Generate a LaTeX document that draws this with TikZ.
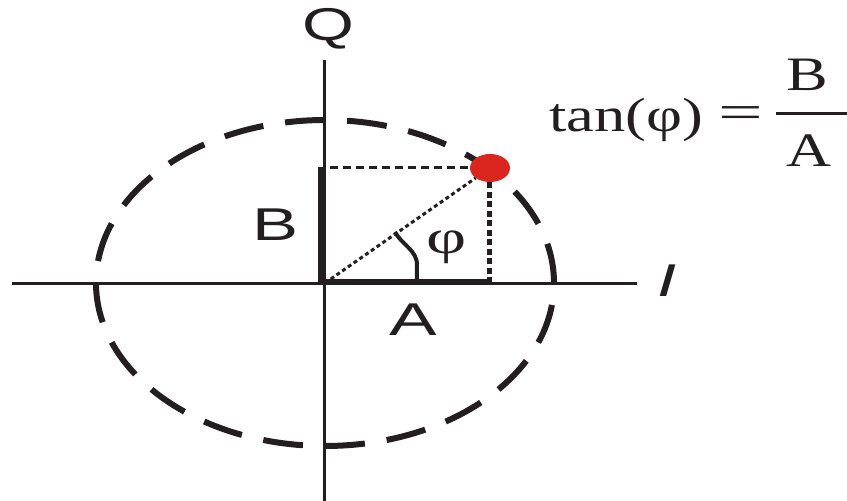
\documentclass[tikz,border=0pt]{standalone}
\usepackage{fontspec}
\setmainfont{Liberation Serif}
\newfontfamily\lsans{Liberation Sans}
\usetikzlibrary{shapes.geometric}
\definecolor{ink}{RGB}{35,31,32}
\definecolor{dotred}{RGB}{218,38,30}
\begin{document}
\begin{tikzpicture}[x=1pt,y=1pt,
  axis/.style={draw=ink,line width=3pt},
  ell/.style={draw=ink,line width=6pt,dash pattern=on 40pt off 22pt},
  bbar/.style={draw=ink,line width=7pt},
  abar/.style={draw=ink,line width=5.5pt},
  hdash/.style={draw=ink,line width=3pt,dash pattern=on 8.5pt off 4.5pt},
  vdot/.style={draw=ink,line width=5pt,dash pattern=on 6pt off 3.5pt},
  diag/.style={draw=ink,line width=3pt,dash pattern=on 4pt off 3pt},
  anglearc/.style={draw=ink,line width=4pt},
  fracbar/.style={draw=ink,line width=3pt},
  sanslbl/.style={text=ink,inner sep=0pt,font=\lsans\fontsize{46}{46}\selectfont},
  seriflbl/.style={text=ink,inner sep=0pt,font=\fontsize{48}{48}\selectfont},
  reddot/.style={ellipse,fill=dotred,minimum width=40pt,minimum height=28pt,inner sep=0pt}]
\useasboundingbox (-325,-218) rectangle (522,283);
% coordinates
\coordinate (O) at (0,0);
\coordinate (Qtop) at (0,223);
\coordinate (Qbot) at (0,-218);
\coordinate (Ileft) at (-313,0);
\coordinate (Iright) at (312,0);
\coordinate (Btop) at (0,116);
\coordinate (F) at (165,0);
\coordinate (Hs) at (5,115);
% ellipse (four quadrants, dash starting at each axis)
\draw[ell] (229,0) arc[start angle=0,end angle=90,x radius=229,y radius=163];
\draw[ell] (0,163) arc[start angle=90,end angle=180,x radius=229,y radius=163];
\draw[ell] (-229,0) arc[start angle=180,end angle=270,x radius=229,y radius=163];
\draw[ell] (0,-163) arc[start angle=270,end angle=360,x radius=229,y radius=163];
% axes
\draw[axis] (Qtop) -- (Qbot);
\draw[axis] (Ileft) -- (Iright);
% red point
\node[reddot] (P) at (165,115) {};
% projections
\draw[hdash] (Hs) -- (P.west);
\draw[vdot] (P.south) -- (F);
\draw[diag] (O) -- (P);
\draw[bbar] ([xshift=-3.5pt]O) -- ([xshift=-3.5pt]Btop);
\draw[abar] ([yshift=1.5pt]O) -- ([yshift=1.5pt]F);
% angle mark
\draw[anglearc] (70,51) .. controls (77,38) and (92,33) .. (92,18) -- (92,0);
% labels
\node[sanslbl] (lQ) at (3,254) {\scalebox{1.45}[1]{Q}};
\node[sanslbl] (lB) at (-49,58) {\scalebox{1.5}[1]{B}};
\node[sanslbl] (lA) at (88,-37) {\scalebox{1.55}[1]{A}};
\node[sanslbl] (lI) at (342,2) {\scalebox{1.5}[1]{\itshape I}};
\node[seriflbl] (lphi) at (122,36) {\scalebox{1.45}[1]{φ}};
% formula
\node[seriflbl,anchor=base west] (tan) at (224,151) {\scalebox{1.3}[1]{tan(φ)}};
\node[seriflbl] (eq) at (415.5,165.5) {\scalebox{1.65}[1]{=}};
\node[seriflbl] (num) at (482,208) {\scalebox{1.3}[1]{B}};
\node[seriflbl] (den) at (484,132) {\scalebox{1.3}[1]{A}};
\coordinate (barL) at (451,169);
\coordinate (barR) at (522,169);
\draw[fracbar] (barL) -- (barR);
\end{tikzpicture}
\end{document}
